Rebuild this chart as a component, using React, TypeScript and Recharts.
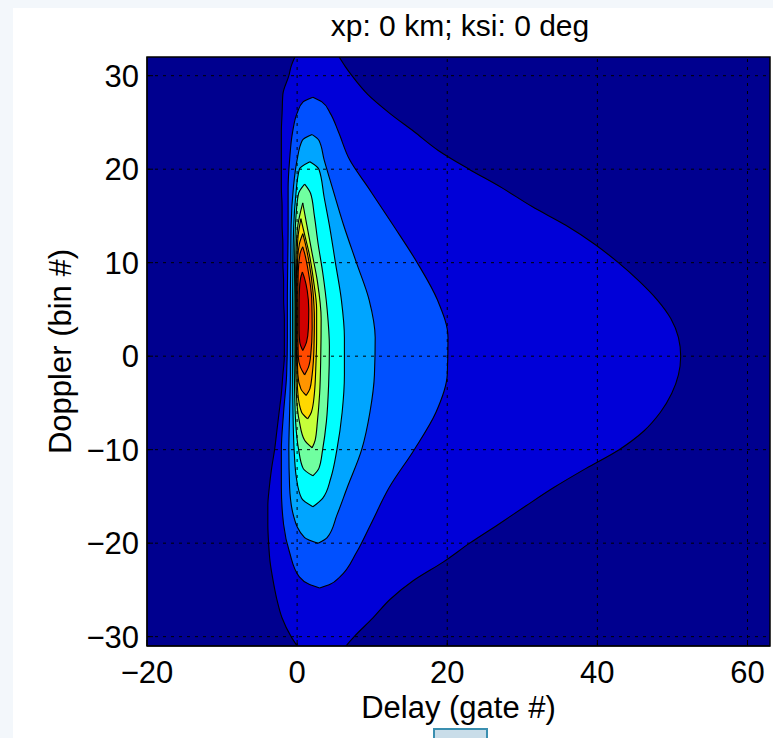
import { ComposedChart, Area, XAxis, YAxis, ReferenceLine, ReferenceArea, CartesianGrid, Label } from 'recharts';

const delayTicks = [-20, 0, 20, 40, 60];
const dopplerTicks = [-30, -20, -10, 0, 10, 20, 30];

// contour bands, outermost first: [doppler bin, left delay, right delay]
const band1 = [
  [-31, 0.0, 6.5], [-30, -0.8, 7.6], [-28, -2.0, 10.1], [-26, -2.7, 12.4], [-24, -3.2, 15.5],
  [-22, -3.6, 19.5], [-20, -3.8, 23.0], [-18, -3.9, 26.8], [-16, -3.9, 30.5], [-14, -3.7, 34.3],
  [-12, -3.4, 38.5], [-10, -3.0, 42.9], [-8, -2.7, 46.2], [-6, -2.4, 48.4], [-4, -2.1, 49.9],
  [-2, -1.9, 50.8], [0, -1.7, 51.1], [2, -1.7, 50.8], [4, -1.7, 49.8], [6, -1.8, 48.0],
  [8, -1.8, 45.6], [10, -1.9, 42.8], [12, -1.9, 39.6], [14, -2.0, 35.8], [16, -2.0, 31.3],
  [18, -2.1, 27.3], [20, -2.1, 22.9], [22, -2.1, 18.8], [24, -2.1, 15.6], [26, -2.0, 12.3],
  [28, -1.9, 9.4], [30, -1.1, 7.3], [31, -0.8, 6.4], [32, -0.3, 5.6],
];
const band2 = [
  [-24.8, 3.0, 3.0], [-24.4, 1.6, 4.4], [-23.6, 0.3, 5.7], [-21, -1.0, 7.9], [-18, -1.8, 9.8],
  [-14, -2.1, 12.3], [-10, -2.1, 15.6], [-6, -1.8, 18.5], [-2, -1.4, 20.0], [2, -1.3, 20.1],
  [6, -1.3, 18.7], [10, -1.25, 16.0], [14, -1.2, 12.8], [18, -1.2, 9.5], [21, -1.0, 7.0],
  [24, -0.6, 5.5], [26, 0.0, 4.4], [27.2, 0.8, 3.3], [27.7, 2.1, 2.1],
];
const band3 = [
  [-20, 2.8, 2.8], [-19.4, 1.0, 4.0], [-17, -0.5, 5.3], [-14, -1.0, 6.7], [-10, -1.1, 8.6],
  [-6, -1.0, 9.7], [-2, -0.9, 10.3], [2, -0.9, 10.4], [6, -0.9, 9.6], [10, -0.85, 7.9],
  [14, -0.8, 6.2], [18, -0.5, 4.7], [21, 0.0, 3.6], [23.1, 0.7, 2.9], [23.7, 2.0, 2.0],
];
const band4 = [
  [-16.1, 2.1, 2.1], [-15.2, 0.6, 3.4], [-13, -0.1, 4.5], [-10, -0.4, 5.3], [-6, -0.55, 6.0],
  [-2, -0.6, 6.3], [2, -0.6, 6.3], [6, -0.6, 5.9], [10, -0.55, 5.1], [14, -0.45, 4.3],
  [17, -0.2, 3.6], [20, 0.3, 2.9], [20.8, 1.7, 1.7],
];
const band5 = [
  [-12.8, 2.1, 2.1], [-12, 0.8, 2.9], [-10, 0.2, 3.4], [-7, -0.2, 3.9], [-3, -0.35, 4.2],
  [1, -0.4, 4.3], [5, -0.4, 4.0], [9, -0.35, 3.4], [12, -0.3, 2.8], [15, -0.15, 2.3],
  [17.4, 0.2, 1.8], [18.4, 1.0, 1.0],
];
const band6 = [
  [-9.8, 2.0, 2.0], [-9, 1.0, 2.4], [-7, 0.3, 2.7], [-4, -0.1, 3.0], [0, -0.2, 3.15],
  [4, -0.2, 3.2], [8, -0.2, 2.7], [11, -0.15, 2.0], [14, 0.1, 1.3], [16.4, 0.75, 0.75],
];
const band7 = [
  [-6.7, 1.4, 1.4], [-6, 0.6, 1.9], [-4, 0.1, 2.3], [-1, -0.05, 2.5], [2, -0.1, 2.6],
  [5, -0.1, 2.6], [8, -0.1, 2.2], [11, 0.0, 1.6], [13, 0.15, 1.0], [14.7, 0.5, 0.5],
];
const band8 = [
  [-4.2, 1.2, 1.2], [-3.5, 0.5, 1.7], [-2, 0.1, 2.0], [1, 0.0, 2.25], [4, 0.0, 2.3],
  [7, 0.0, 2.1], [10, 0.05, 1.6], [12, 0.3, 1.1], [13.1, 0.75, 0.75],
];
const band9 = [
  [-2.0, 1.0, 1.0], [-1.2, 0.45, 1.5], [0, 0.15, 1.8], [3, 0.1, 2.0], [6, 0.1, 1.95],
  [9, 0.15, 1.5], [11, 0.4, 1.0], [11.7, 0.75, 0.75],
];
const band10 = [
  [0.6, 0.75, 0.75], [1.5, 0.35, 1.25], [3, 0.25, 1.5], [5, 0.25, 1.55], [7, 0.3, 1.35],
  [8.3, 0.45, 1.0], [9.0, 0.7, 0.7],
];

const backgroundColor = '#00008f';
const bandColors = [
  '#0000d8', '#0050ff', '#00a5ff', '#00ffff', '#70ffa0',
  '#c5ff3a', '#ffd800', '#ff9500', '#ff4a00', '#d00000',
];
const bands = [band1, band2, band3, band4, band5, band6, band7, band8, band9, band10];

const toRows = (band: number[][]) => band.map(([v, l, r]) => ({ v, x: [l, r] }));
const fmt = (t: number) => String(t).replace('-', '\u2212');

const font = '"Liberation Sans", Arial, Helvetica, sans-serif';
const tickStyle = { fontSize: 31, fill: '#000', fontFamily: font };

export default function App() {
  return (
    <div style={{ position: 'absolute', left: 0, top: 0, width: 773, height: 738, background: '#f3f7fb', overflow: 'hidden' }}>
      <div style={{ position: 'absolute', left: 13, top: 8, width: 760, height: 730, background: '#fff' }} />
      <div
        style={{
          position: 'absolute', left: 0, top: 9, width: 920, textAlign: 'center',
          fontFamily: font, fontSize: 30, color: '#000', lineHeight: '34px',
        }}
      >
        xp: 0 km; ksi: 0 deg
      </div>
      <div style={{ position: 'absolute', left: 0, top: 0 }}>
        <ComposedChart
          width={773}
          height={738}
          layout="vertical"
          margin={{ top: 57, right: 3, bottom: 0, left: 0 }}
        >
          <CartesianGrid fill={backgroundColor} horizontal={false} vertical={false} />
          <XAxis
            type="number"
            domain={[-20, 63]}
            ticks={delayTicks}
            allowDataOverflow
            height={92}
            stroke="#000"
            tickSize={-6}
            tickMargin={21}
            tick={tickStyle}
            tickFormatter={fmt}
          >
            <Label value="Delay (gate #)" position="insideBottom" offset={20} style={{ ...tickStyle }} />
          </XAxis>
          <YAxis
            type="number"
            dataKey="v"
            domain={[-31, 32]}
            ticks={dopplerTicks}
            reversed
            allowDataOverflow
            width={147}
            stroke="#000"
            tickSize={-6}
            tickMargin={14}
            tick={tickStyle}
            tickFormatter={fmt}
          >
            <Label value="Doppler (bin #)" angle={-90} position="insideLeft" offset={60} style={{ ...tickStyle, textAnchor: 'middle' }} />
          </YAxis>
          {bands.map((band, i) => (
            <Area
              key={i}
              data={toRows(band)}
              dataKey="x"
              type="monotone"
              fill={bandColors[i]}
              fillOpacity={1}
              stroke="#000"
              strokeWidth={1.1}
              dot={false}
              activeDot={false}
              isAnimationActive={false}
            />
          ))}
          {delayTicks.slice(1).map((t) => (
            <ReferenceLine key={'x' + t} x={t} stroke="#000" strokeDasharray="3 5" strokeWidth={1} />
          ))}
          {dopplerTicks.map((t) => (
            <ReferenceLine key={'y' + t} y={t} stroke="#000" strokeDasharray="3 5" strokeWidth={1} />
          ))}
          <ReferenceArea x1={-20} x2={63} y1={-31} y2={32} fill="none" stroke="#000" strokeWidth={1.5} />
        </ComposedChart>
      </div>
      <div
        style={{
          position: 'absolute', left: 433, top: 728, width: 51, height: 12,
          border: '2px solid #3a8fb0', background: '#c9dde9',
        }}
      />
    </div>
  );
}
